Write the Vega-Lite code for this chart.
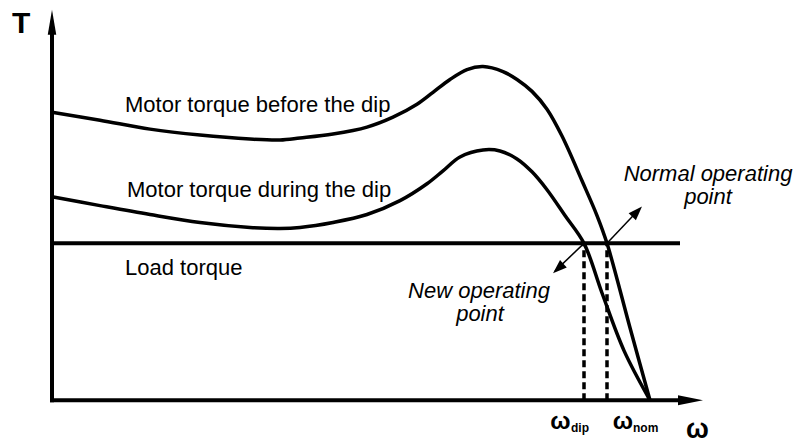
{
  "$schema": "https://vega.github.io/schema/vega-lite/v6.json",
  "width": 795,
  "height": 443,
  "padding": 0,
  "autosize": {"type": "fit", "contains": "padding"},
  "background": "white",
  "config": {"view": {"stroke": null}, "text": {"font": "Liberation Sans"}},
  "datasets": {
    "curves": [
      {"s": "before", "w": 0, "t": 290}, {"s": "before", "w": 48, "t": 282}, {"s": "before", "w": 98, "t": 273},
      {"s": "before", "w": 148, "t": 267}, {"s": "before", "w": 198, "t": 263}, {"s": "before", "w": 228, "t": 262},
      {"s": "before", "w": 248, "t": 264}, {"s": "before", "w": 281, "t": 268}, {"s": "before", "w": 315, "t": 275},
      {"s": "before", "w": 341, "t": 285}, {"s": "before", "w": 365, "t": 298}, {"s": "before", "w": 381, "t": 310},
      {"s": "before", "w": 398, "t": 323}, {"s": "before", "w": 415, "t": 333}, {"s": "before", "w": 431, "t": 336},
      {"s": "before", "w": 451, "t": 331}, {"s": "before", "w": 465, "t": 323}, {"s": "before", "w": 480, "t": 311},
      {"s": "before", "w": 495, "t": 293}, {"s": "before", "w": 510, "t": 266}, {"s": "before", "w": 530, "t": 221},
      {"s": "before", "w": 545, "t": 186}, {"s": "before", "w": 555, "t": 158},
      {"s": "before", "w": 578, "t": 73}, {"s": "before", "w": 598, "t": 0},
      {"s": "during", "w": 0, "t": 205}, {"s": "during", "w": 48, "t": 196}, {"s": "during", "w": 98, "t": 187},
      {"s": "during", "w": 148, "t": 179}, {"s": "during", "w": 198, "t": 174}, {"s": "during", "w": 228, "t": 173},
      {"s": "during", "w": 248, "t": 174}, {"s": "during", "w": 281, "t": 179}, {"s": "during", "w": 315, "t": 187},
      {"s": "during", "w": 348, "t": 201}, {"s": "during", "w": 375, "t": 218}, {"s": "during", "w": 391, "t": 231},
      {"s": "during", "w": 408, "t": 245}, {"s": "during", "w": 431, "t": 252}, {"s": "during", "w": 448, "t": 251},
      {"s": "during", "w": 465, "t": 243}, {"s": "during", "w": 480, "t": 230}, {"s": "during", "w": 495, "t": 212},
      {"s": "during", "w": 513, "t": 186}, {"s": "during", "w": 532, "t": 158},
      {"s": "during", "w": 550, "t": 108}, {"s": "during", "w": 572, "t": 50}, {"s": "during", "w": 598, "t": 0}
    ],
    "rules": [
      {"k": "yaxis", "w": 0, "t": -2, "w2": 0, "t2": 372, "sw": 4},
      {"k": "xaxis", "w": -2, "t": 0, "w2": 628, "t2": 0, "sw": 4},
      {"k": "load", "w": 0, "t": 158, "w2": 628, "t2": 158, "sw": 4},
      {"k": "arrowNew", "w": 532, "t": 158, "w2": 503, "t2": 130, "sw": 1.5},
      {"k": "arrowNormal", "w": 555, "t": 158, "w2": 587, "t2": 192, "sw": 1.5}
    ],
    "dashes": [
      {"k": "dip", "w": 532, "t": 0, "t2": 157},
      {"k": "nom", "w": 555, "t": 0, "t2": 157}
    ],
    "bigArrows": [
      {"k": "y", "w": 0, "t": 380.5, "p": "M0,-1L0.34,1L-0.34,1Z"},
      {"k": "x", "w": 638.5, "t": 0, "p": "M1,0L-1,-0.4L-1,0.4Z"}
    ],
    "smallArrows": [
      {"k": "new", "w": 501, "t": 128, "a": 228},
      {"k": "normal", "w": 590, "t": 195, "a": 44}
    ],
    "plainLabels": [
      {"txt": "Motor torque before the dip", "w": 73, "t": 290},
      {"txt": "Motor torque during the dip", "w": 75, "t": 205},
      {"txt": "Load torque", "w": 73, "t": 126}
    ],
    "italicLabels": [
      {"txt": "New operating", "w": 427, "t": 103},
      {"txt": "point", "w": 428, "t": 80},
      {"txt": "Normal operating", "w": 656, "t": 221},
      {"txt": "point", "w": 656, "t": 198}
    ],
    "boldLeftLabels": [
      {"txt": "T", "w": -40, "t": 370, "size": 30},
      {"txt": "dip", "w": 519, "t": -32, "size": 12},
      {"txt": "nom", "w": 581, "t": -32, "size": 12},
      {"txt": "ω", "w": 634, "t": -38, "size": 27}
    ],
    "omegaLabels": [
      {"txt": "ω", "w": 508.5, "t": -29},
      {"txt": "ω", "w": 571, "t": -29}
    ]
  },
  "layer": [
    {
      "data": {"name": "curves"},
      "mark": {"type": "line", "color": "black", "strokeWidth": 3.5, "interpolate": "catmull-rom"},
      "encoding": {
        "x": {"field": "w", "type": "quantitative", "scale": {"domain": [-52, 743], "nice": false, "zero": false}, "axis": null},
        "y": {"field": "t", "type": "quantitative", "scale": {"domain": [-40, 403], "nice": false, "zero": false}, "axis": null},
        "detail": {"field": "s"}
      }
    },
    {
      "data": {"name": "rules"},
      "mark": {"type": "rule", "color": "black", "strokeCap": "butt"},
      "encoding": {
        "x": {"field": "w", "type": "quantitative"},
        "y": {"field": "t", "type": "quantitative"},
        "x2": {"field": "w2"},
        "y2": {"field": "t2"},
        "strokeWidth": {"field": "sw", "type": "quantitative", "scale": null}
      }
    },
    {
      "data": {"name": "dashes"},
      "mark": {"type": "rule", "color": "black", "strokeWidth": 3.5, "strokeDash": [7, 4]},
      "encoding": {
        "x": {"field": "w", "type": "quantitative"},
        "y": {"field": "t", "type": "quantitative"},
        "y2": {"field": "t2"}
      }
    },
    {
      "data": {"name": "bigArrows"},
      "mark": {"type": "point", "filled": true, "color": "black", "opacity": 1, "size": 625, "strokeWidth": 0},
      "encoding": {
        "x": {"field": "w", "type": "quantitative"},
        "y": {"field": "t", "type": "quantitative"},
        "shape": {"field": "p", "type": "nominal", "scale": null}
      }
    },
    {
      "data": {"name": "smallArrows"},
      "mark": {"type": "point", "filled": true, "color": "black", "opacity": 1, "size": 784, "strokeWidth": 0, "shape": "M0,0L0.36,1L-0.36,1Z"},
      "encoding": {
        "x": {"field": "w", "type": "quantitative"},
        "y": {"field": "t", "type": "quantitative"},
        "angle": {"field": "a", "type": "quantitative", "scale": null}
      }
    },
    {
      "data": {"name": "plainLabels"},
      "mark": {"type": "text", "color": "black", "baseline": "alphabetic", "align": "left", "fontSize": 22},
      "encoding": {
        "x": {"field": "w", "type": "quantitative"},
        "y": {"field": "t", "type": "quantitative"},
        "text": {"field": "txt"}
      }
    },
    {
      "data": {"name": "italicLabels"},
      "mark": {"type": "text", "color": "black", "baseline": "alphabetic", "align": "center", "fontSize": 22, "fontStyle": "italic"},
      "encoding": {
        "x": {"field": "w", "type": "quantitative"},
        "y": {"field": "t", "type": "quantitative"},
        "text": {"field": "txt"}
      }
    },
    {
      "data": {"name": "boldLeftLabels"},
      "mark": {"type": "text", "color": "black", "baseline": "alphabetic", "align": "left", "fontWeight": "bold"},
      "encoding": {
        "x": {"field": "w", "type": "quantitative"},
        "y": {"field": "t", "type": "quantitative"},
        "text": {"field": "txt"},
        "size": {"field": "size", "type": "quantitative", "scale": null}
      }
    },
    {
      "data": {"name": "omegaLabels"},
      "mark": {"type": "text", "color": "black", "baseline": "alphabetic", "align": "center", "fontWeight": "bold", "fontSize": 24},
      "encoding": {
        "x": {"field": "w", "type": "quantitative"},
        "y": {"field": "t", "type": "quantitative"},
        "text": {"field": "txt"}
      }
    }
  ]
}
